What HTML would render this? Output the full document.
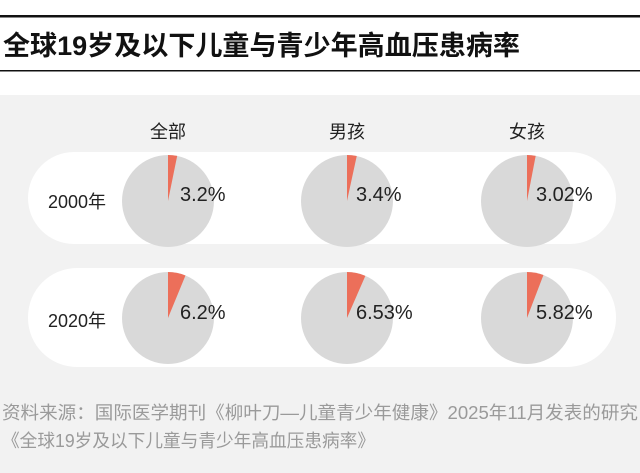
<!DOCTYPE html>
<html><head><meta charset="utf-8"><style>
body{margin:0;background:#fff;}
svg{display:block;}
text{font-family:"Liberation Sans","Noto Sans CJK SC",sans-serif;}
</style></head><body>
<svg width="640" height="473" viewBox="0 0 640 473">
<rect x="0" y="0" width="640" height="473" fill="#fff"/>
<rect x="0" y="15" width="640" height="2.5" fill="#111"/>
<rect x="0" y="70" width="640" height="1.5" fill="#111"/>
<text x="3" y="55" font-size="27" font-weight="bold" fill="#111" textLength="517" lengthAdjust="spacingAndGlyphs">全球19岁及以下儿童与青少年高血压患病率</text>
<rect x="0" y="95" width="640" height="378" fill="#f2f2f2"/>
<text x="168" y="138" font-size="18" text-anchor="middle" fill="#222">全部</text>
<text x="347" y="138" font-size="18" text-anchor="middle" fill="#222">男孩</text>
<text x="527" y="138" font-size="18" text-anchor="middle" fill="#222">女孩</text>
<rect x="28" y="152" width="588" height="92" rx="46" fill="#fff"/>
<rect x="28" y="268" width="588" height="99" rx="49" fill="#fff"/>
<text x="48" y="208" font-size="18" fill="#222">2000年</text>
<text x="48" y="327" font-size="18" fill="#222">2020年</text>
<g id="pies"></g>
<text x="180" y="201" font-size="20" fill="#222">3.2%</text>
<text x="356" y="201" font-size="20" fill="#222">3.4%</text>
<text x="536" y="201" font-size="20" fill="#222">3.02%</text>
<text x="180" y="319" font-size="20" fill="#222">6.2%</text>
<text x="356" y="319" font-size="20" fill="#222">6.53%</text>
<text x="536" y="319" font-size="20" fill="#222">5.82%</text>
<text x="2" y="419" font-size="18" fill="#9a9a9a" textLength="636" lengthAdjust="spacingAndGlyphs">资料来源：国际医学期刊《柳叶刀—儿童青少年健康》2025年11月发表的研究</text>
<text x="2" y="447" font-size="18" fill="#9a9a9a" textLength="373" lengthAdjust="spacingAndGlyphs">《全球19岁及以下儿童与青少年高血压患病率》</text>
</svg>
<script>
var g=document.getElementById('pies');
var data=[[168,201,3.2],[347,201,3.4],[527,201,3.02],[168,318,6.2],[347,318,6.53],[527,318,5.82]];
var r=46,ns='http://www.w3.org/2000/svg';
data.forEach(function(d){
 var c=document.createElementNS(ns,'circle');
 c.setAttribute('cx',d[0]);c.setAttribute('cy',d[1]);c.setAttribute('r',r);c.setAttribute('fill','#d9d9d9');g.appendChild(c);
 var a=d[2]/100*2*Math.PI;
 var x=d[0]+r*Math.sin(a),y=d[1]-r*Math.cos(a);
 var p=document.createElementNS(ns,'path');
 p.setAttribute('d','M'+d[0]+','+d[1]+' L'+d[0]+','+(d[1]-r)+' A'+r+','+r+' 0 0 1 '+x+','+y+' Z');
 p.setAttribute('fill','#ec6f5a');g.appendChild(p);
});
</script>
</body></html>
